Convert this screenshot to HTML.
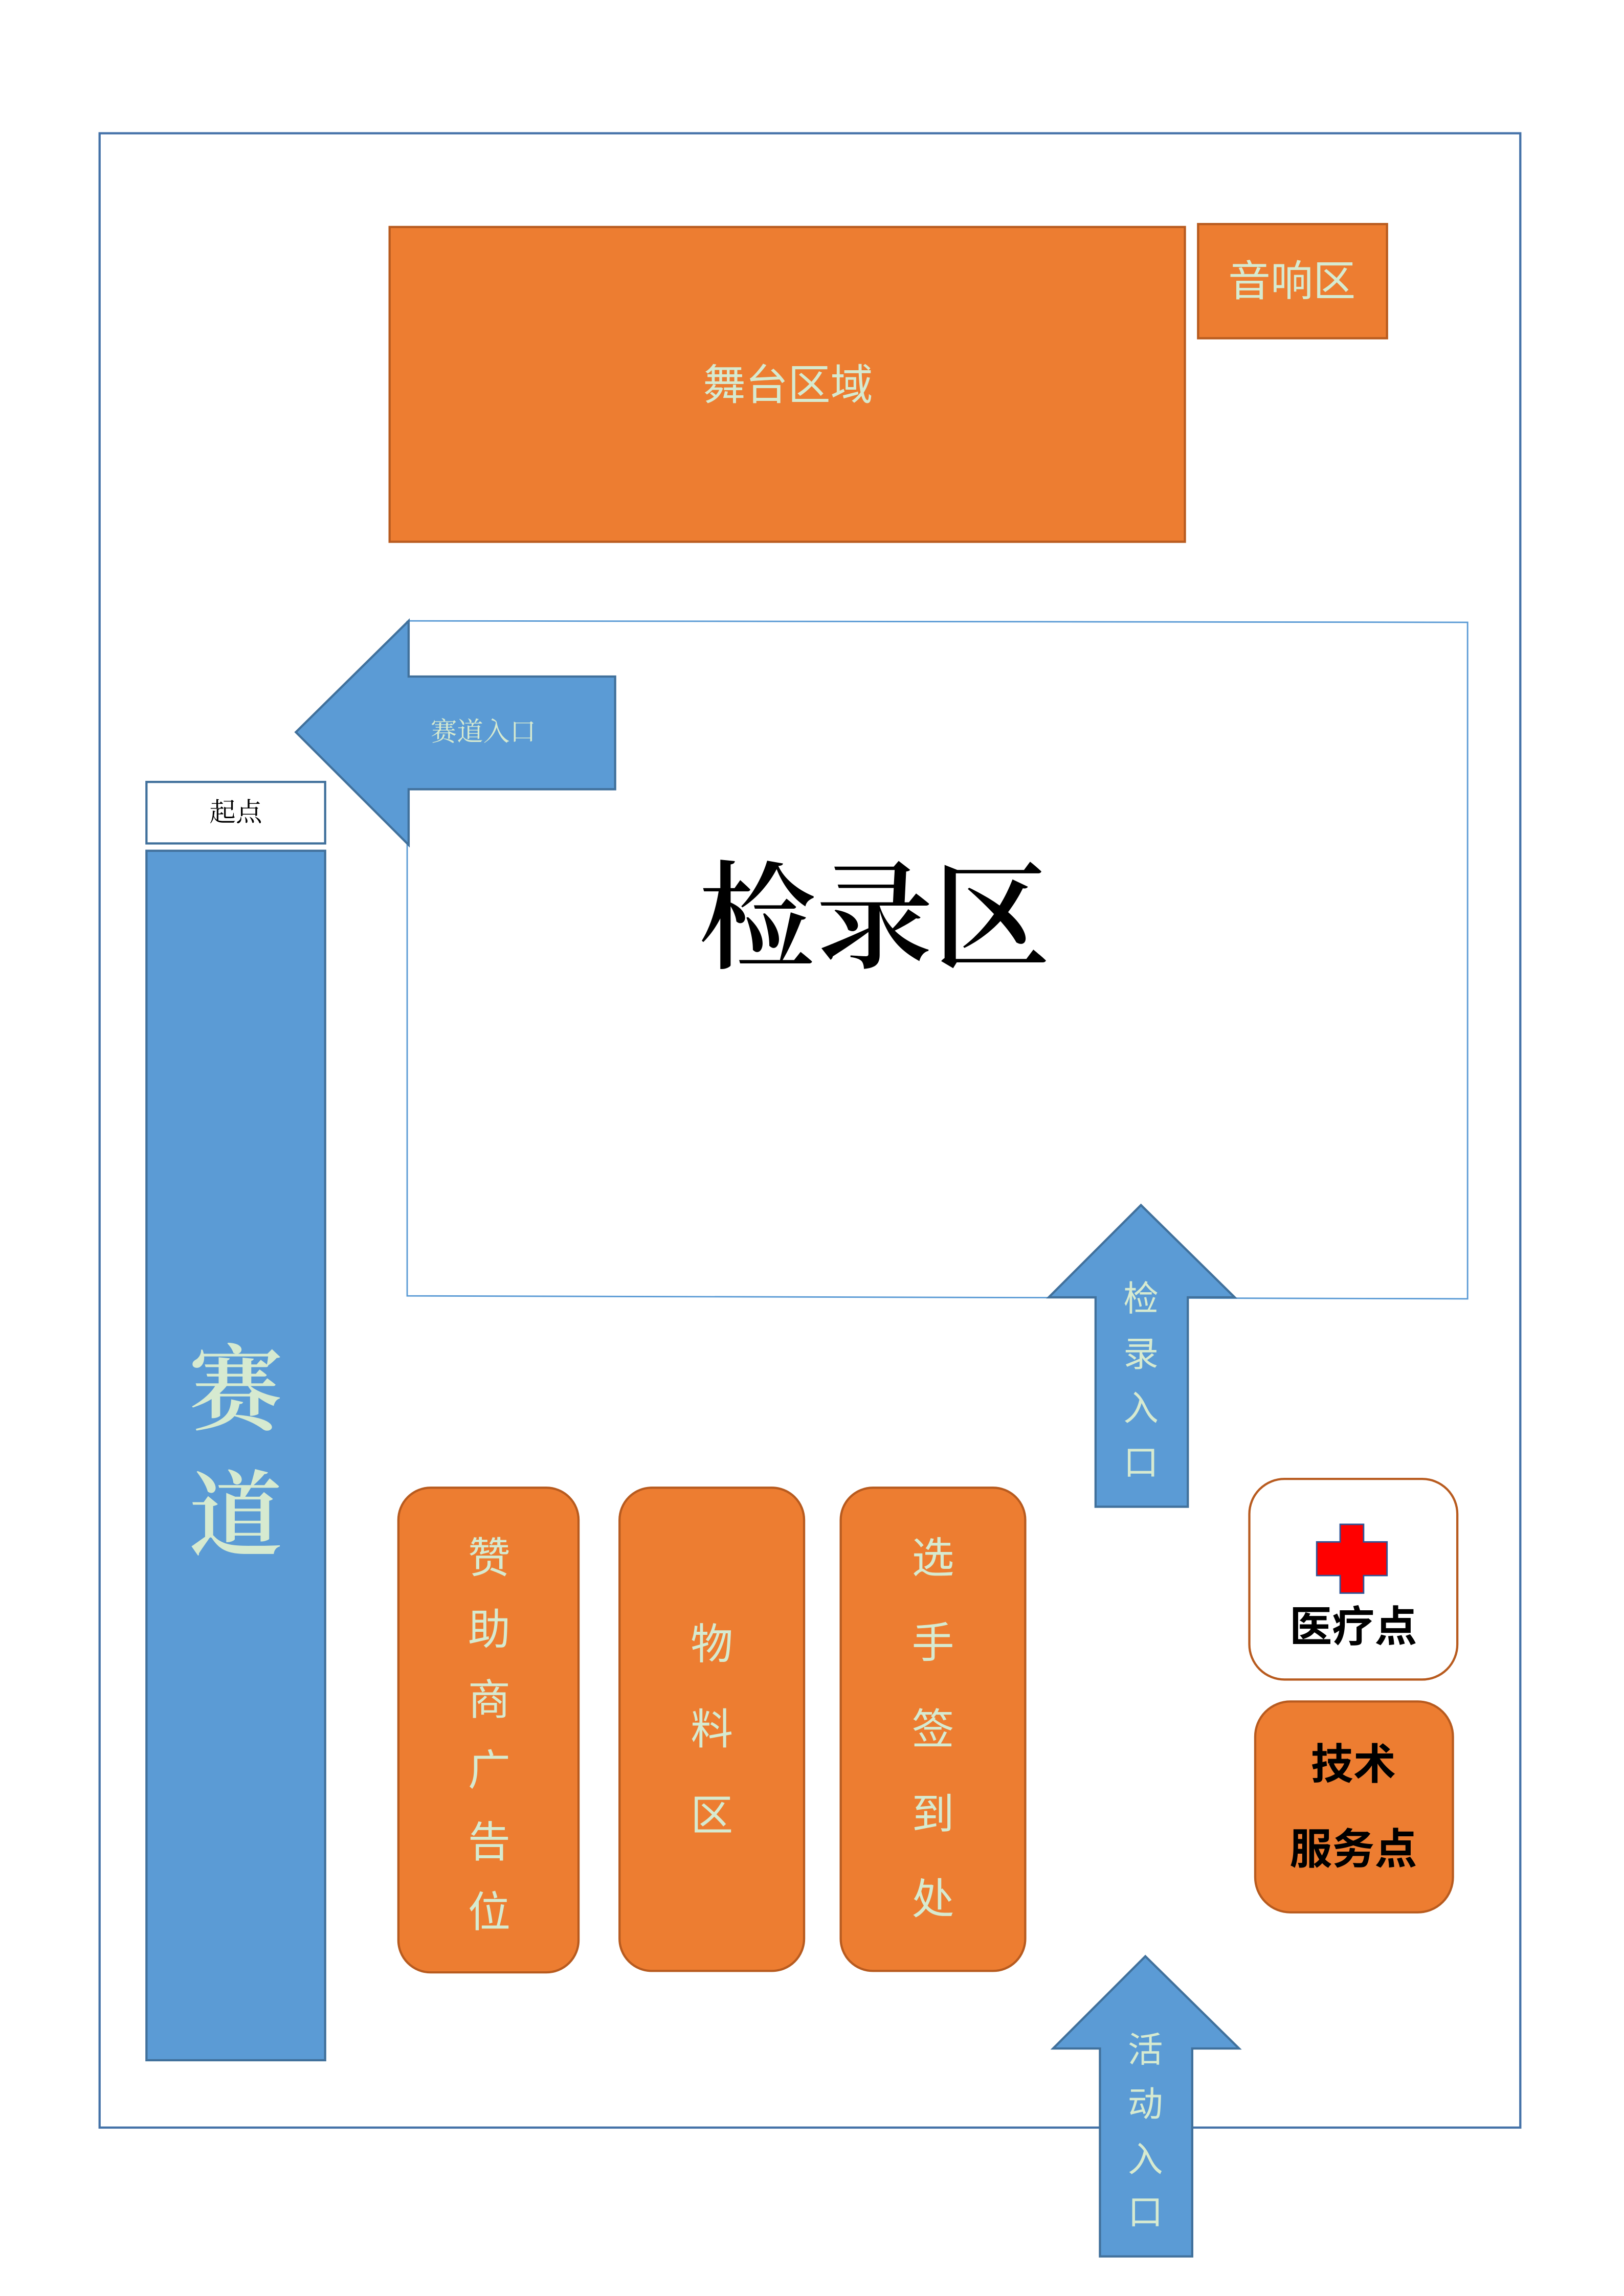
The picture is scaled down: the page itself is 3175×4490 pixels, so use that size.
<!DOCTYPE html>
<html><head><meta charset="utf-8"><style>
html,body{margin:0;padding:0;background:#fff;}
svg{display:block;}
text{font-family:"Liberation Sans","Noto Sans CJK SC",sans-serif;text-anchor:middle;dominant-baseline:central;}
.g{fill:#d6ead0;}
.s{font-family:"Liberation Serif","Noto Serif CJK SC",serif;}
</style></head><body>
<svg width="3175" height="4490" viewBox="0 0 1108.8 1568" xmlns="http://www.w3.org/2000/svg">
<rect x="68" y="91" width="970" height="1362" fill="none" stroke="#4472a8" stroke-width="1.5"/>
<rect x="266" y="155" width="543" height="215" fill="#ed7d31" stroke="#b85b1f" stroke-width="1.5"/>
<text x="538" y="263" font-size="29" class="g">舞台区域</text>
<rect x="818" y="153" width="129" height="78" fill="#ed7d31" stroke="#b85b1f" stroke-width="1.5"/>
<text x="882" y="192" font-size="29" class="g">音响区</text>
<polyline points="279,424 1002,425 1002,887 278,885 278,424" fill="none" stroke="#5b9bd5" stroke-width="1"/>
<polygon points="202,500 279,424 279,462 420,462 420,539 279,539 279,577" fill="#5b9bd5" stroke="#41719c" stroke-width="1.5"/>
<text x="330" y="500" font-size="18" class="g s">赛道入口</text>
<rect x="100" y="534" width="122" height="42" fill="#fff" stroke="#41719c" stroke-width="1.5"/>
<text x="161" y="555" font-size="18" class="s" fill="#000">起点</text>
<rect x="100" y="581" width="122" height="826" fill="#5b9bd5" stroke="#41719c" stroke-width="1.5"/>
<text x="161" y="950" font-size="64" class="g s" font-weight="600">赛</text>
<text x="161" y="1036" font-size="64" class="g s" font-weight="600">道</text>
<text x="597" y="628" font-size="80" class="s" font-weight="600" fill="#000">检录区</text>
<polygon points="779,823 843,886 811,886 811,1029 748,1029 748,886 716,886" fill="#5b9bd5" stroke="#41719c" stroke-width="1.5"/>
<text x="779" y="887" font-size="24" class="g">检</text>
<text x="779" y="925" font-size="24" class="g">录</text>
<text x="779" y="962" font-size="24" class="g">入</text>
<text x="779" y="999" font-size="24" class="g">口</text>
<polygon points="782,1336 846,1399 814,1399 814,1541 751,1541 751,1399 719,1399" fill="#5b9bd5" stroke="#41719c" stroke-width="1.5"/>
<text x="782" y="1400" font-size="24" class="g">活</text>
<text x="782" y="1437" font-size="24" class="g">动</text>
<text x="782" y="1475" font-size="24" class="g">入</text>
<text x="782" y="1511" font-size="24" class="g">口</text>
<rect x="272" y="1016" width="123" height="331" rx="22" fill="#ed7d31" stroke="#b85b1f" stroke-width="1.5"/>
<g font-size="29" class="g">
<text x="334" y="1064">赞</text><text x="334" y="1113">助</text><text x="334" y="1161">商</text>
<text x="334" y="1209">广</text><text x="334" y="1258">告</text><text x="334" y="1306">位</text>
</g>
<rect x="423" y="1016" width="126" height="330" rx="22" fill="#ed7d31" stroke="#b85b1f" stroke-width="1.5"/>
<g font-size="29" class="g">
<text x="486" y="1123">物</text><text x="486" y="1181">料</text><text x="486" y="1240">区</text>
</g>
<rect x="574" y="1016" width="126" height="330" rx="22" fill="#ed7d31" stroke="#b85b1f" stroke-width="1.5"/>
<g font-size="29" class="g">
<text x="637" y="1064">选</text><text x="637" y="1122">手</text><text x="637" y="1181">签</text>
<text x="637" y="1239">到</text><text x="637" y="1297">处</text>
</g>
<rect x="853" y="1010" width="142" height="137" rx="24" fill="#fff" stroke="#b85b1f" stroke-width="1.5"/>
<polygon points="915,1041 931,1041 931,1053 947,1053 947,1076 931,1076 931,1088 915,1088 915,1076 899,1076 899,1053 915,1053" fill="#ff0000" stroke="#2f5597" stroke-width="1"/>
<text x="924" y="1111" font-size="29" fill="#000" font-weight="bold">医疗点</text>
<rect x="857" y="1162" width="135" height="144" rx="24" fill="#ed7d31" stroke="#b85b1f" stroke-width="1.5"/>
<text x="924" y="1205" font-size="29" fill="#000" font-weight="bold">技术</text>
<text x="924" y="1263" font-size="29" fill="#000" font-weight="bold">服务点</text>
</svg>
</body></html>
